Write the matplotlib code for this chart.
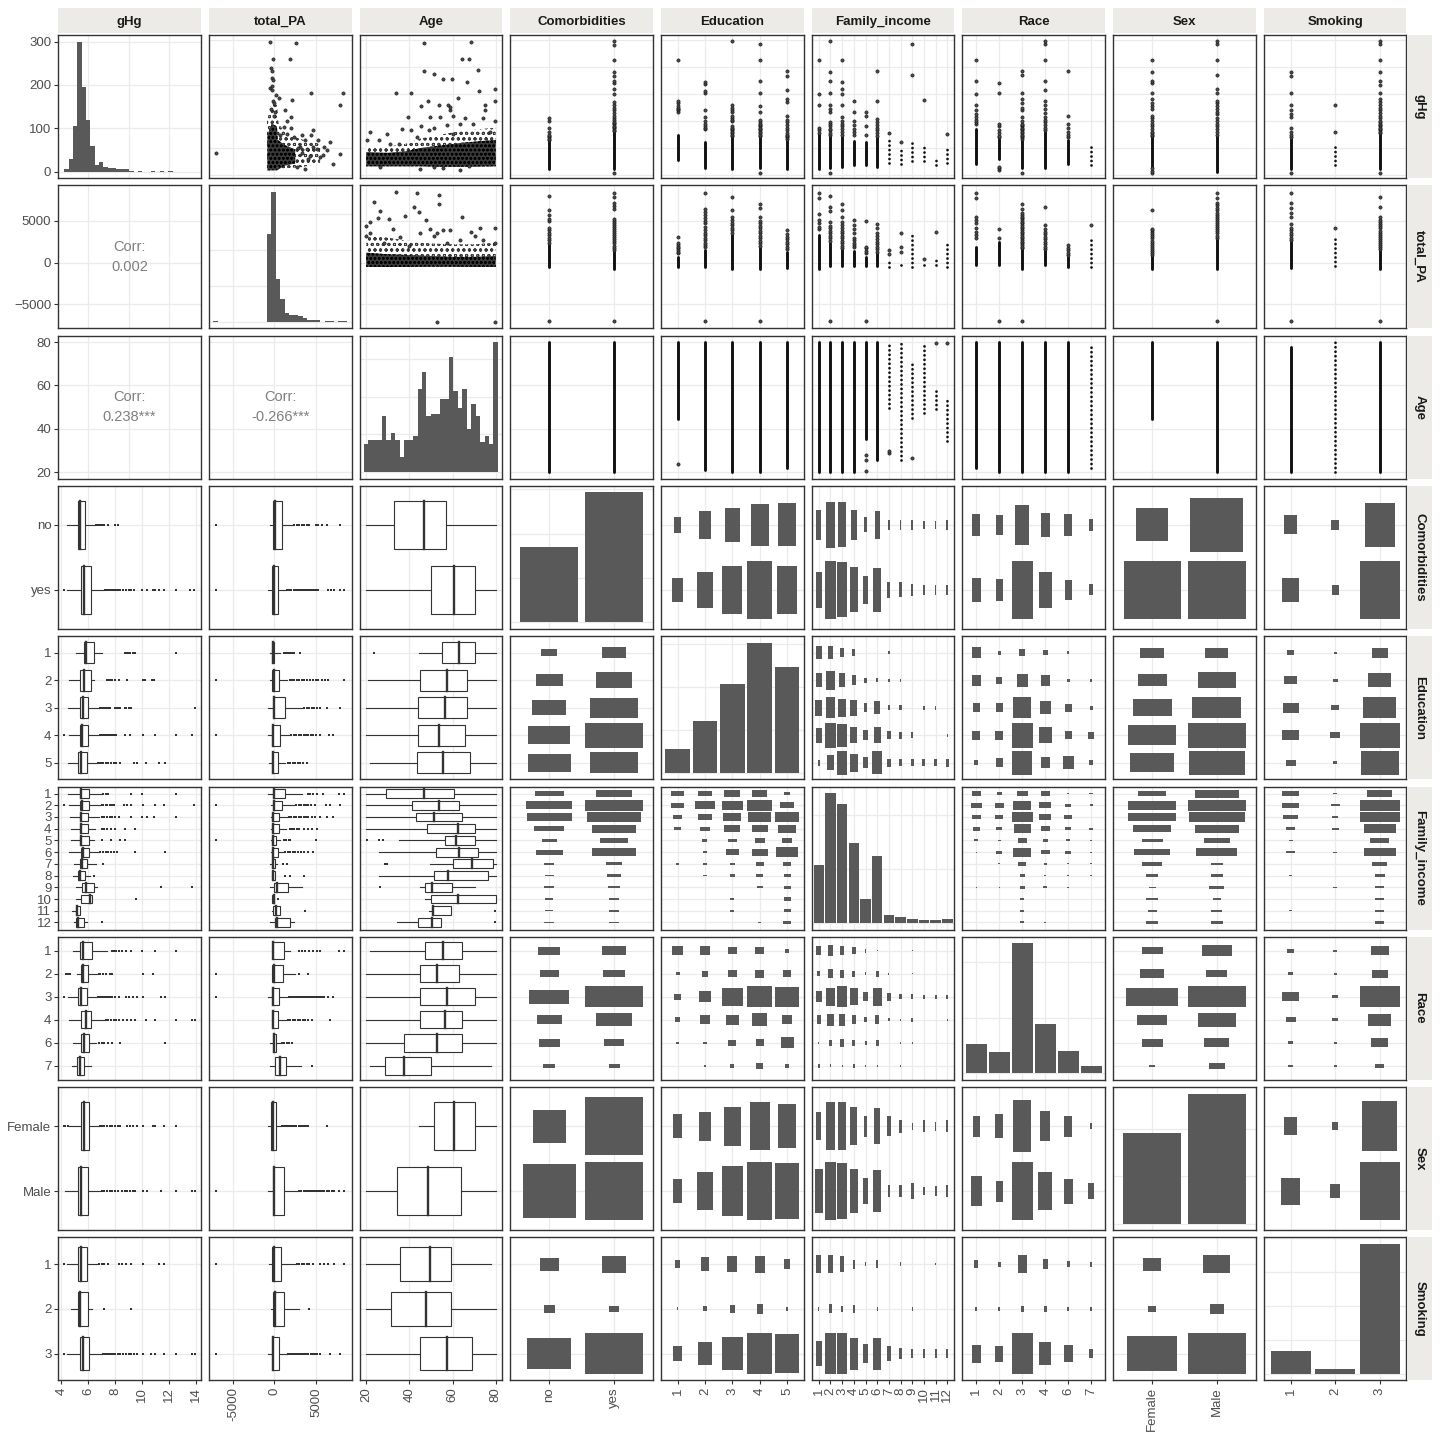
import numpy as np
import matplotlib
matplotlib.use("Agg")
import matplotlib.pyplot as plt
from matplotlib.patches import Rectangle
from matplotlib.ticker import MaxNLocator

plt.rcParams['font.family'] = ['Liberation Sans', 'DejaVu Sans']
plt.rcParams['hatch.linewidth'] = 0.7

# ---------------------------------------------------------------- data
variables = ['gHg', 'total_PA', 'Age', 'Comorbidities', 'Education',
             'Family_income', 'Race', 'Sex', 'Smoking']
continuous = ['gHg', 'total_PA', 'Age']

gHg_range = [4.26, 13.89]
total_PA_range = [-7100, 8500]
Age_range = [20, 80]

gHg_breaks = [4, 6, 8, 10, 12, 14]
gHg_diag_breaks = [6, 9, 12]
total_PA_breaks = [-5000, 0, 5000]
Age_breaks = [20, 40, 60, 80]

Comorbidities_levels = ['no', 'yes']
Education_levels = ['1', '2', '3', '4', '5']
Family_income_levels = ['1', '2', '3', '4', '5', '6', '7', '8', '9', '10', '11', '12']
Race_levels = ['1', '2', '3', '4', '6', '7']
Sex_levels = ['Female', 'Male']
Smoking_levels = ['1', '2', '3']

Comorbidities_counts = [340, 586]
Education_counts = [56, 121, 206, 302, 246]
Family_income_counts = [108, 240, 219, 147, 44, 123, 15, 11, 7, 5, 5, 7]
Race_counts = [104, 76, 468, 177, 79, 25]
Sex_counts = [382, 548]
Smoking_counts = [135, 29, 765]

# histograms of continuous variables
gHg_hist_lo, gHg_hist_hi = 4.23, 12.28
gHg_hist_counts = [5, 28, 105, 300, 195, 119, 60, 16, 23, 10, 8, 7, 5, 5, 5, 2,
                   0, 1, 0, 0, 1, 0, 1, 0, 1]
total_PA_hist_counts = [2, 0, 0, 0, 0, 0, 0, 0, 0, 0, 0, 0, 245, 361, 118, 64, 25,
                        20, 20, 16, 11, 6, 6, 4, 0, 2, 2, 0, 1, 1]
Age_hist_counts = [15, 17, 17, 17, 30, 17, 21, 17, 8, 17, 17, 19, 44, 53, 30, 31,
                   31, 39, 39, 61, 43, 34, 44, 23, 36, 30, 16, 19, 15, 69]

corr_gHg_total_PA = '0.002'
corr_gHg_Age = '0.238***'
corr_total_PA_Age = '-0.266***'

# scatter gHg (y) vs total_PA (x)
sc1_total_PA = [-7027, -476, 2620, -119, 1906, -397, -278, -318, -159, -476, -278,
                516, 2144, 1310, 2025, 4367, 8297, 7861, 4685, 3295, 1112, 1509,
                2303, 3692, 4685, 5082, 6273, 6670, 5479, 7067, 7940, 2700, 3692,
                318, 715, 3097, 4090, -200, 0, -400, 100, -100, 200, -300, 2800,
                3300, 3900, 4300, 5800, 6000, 5200, 4400, 2000, 1500]
sc1_gHg = [5.65, 13.89, 13.81, 12.62, 12.62, 11.9, 11.72, 11.15, 11.03, 10.41,
           10.29, 9.67, 9.54, 8.8, 8.3, 10.09, 10.09, 9.17, 7.31, 6.94, 7.56, 7.06,
           6.81, 6.57, 6.07, 5.95, 5.82, 6.44, 5.33, 4.83, 5.57, 4.58, 4.46, 4.58,
           6.94, 6.07, 5.2, 9.5, 9.3, 8.9, 8.7, 8.4, 9.9, 10.6, 6.0, 5.6, 5.9, 5.4,
           5.5, 6.1, 6.6, 7.0, 7.5, 8.0]
core1_total_PA = [-850, 300, 1300, 2500, 2500, 1300, 400, 300, -300, -850]
core1_gHg = [4.35, 4.35, 4.7, 4.85, 5.9, 6.2, 6.6, 7.6, 7.8, 7.0]
halo1_total_PA = [-900, 1500, 3500, 5500, 5500, 3500, 1500, 500, 300, -400, -900]
halo1_gHg = [4.3, 4.5, 4.6, 4.9, 6.3, 6.6, 7.0, 7.8, 9.2, 9.2, 8.0]

# scatter gHg (y) vs Age (x)
sc2_Age = [46.9, 68.4, 64.3, 67.7, 46.9, 51.5, 55.7, 59.8, 71.7, 66.6, 34.0, 40.9,
           72.4, 79.7, 79.7, 48.6, 45.5, 53.7, 57.8, 62.3, 58.9, 75.2, 75.2, 74.3,
           39.4, 49.7, 54.3, 60.2, 65.9, 36.6, 40.9, 45.4, 51.2, 57.4, 63.5, 69.4,
           22.0, 29.7, 26.0, 31.2, 43.5, 60.4, 79.7, 77.4, 20.5, 35.1, 48.9, 58.9,
           26.6, 45.1, 51.2, 55.8, 63.5, 67.8]
sc2_gHg = [13.81, 13.89, 12.62, 12.62, 11.72, 11.48, 11.13, 11.13, 11.8, 10.91,
           10.06, 10.06, 10.24, 10.39, 9.49, 9.49, 9.1, 9.22, 9.17, 9.72, 8.8, 9.22,
           8.8, 8.25, 8.3, 8.3, 8.3, 8.35, 8.25, 7.41, 7.31, 7.61, 7.46, 7.68, 7.81,
           7.81, 7.16, 7.01, 6.57, 6.32, 6.81, 7.06, 8.0, 7.19, 6.57, 6.32, 7.31,
           9.05, 4.63, 4.46, 4.58, 4.51, 4.38, 4.66]
band2_Age = [20, 30, 38, 45, 55, 65, 80]
band2_gHg_lo = [4.65, 4.65, 4.65, 4.65, 4.62, 4.62, 4.65]
band2_gHg_hi = [5.7, 5.65, 5.75, 6.0, 6.2, 6.4, 6.6]
band2_gHg_halo = [6.1, 6.1, 6.3, 6.7, 7.0, 7.3, 7.5]

# scatter total_PA (y) vs Age (x)
sc3_Age = [34.0, 43.5, 53.7, 53.7, 23.8, 26.3, 25.5, 20.0, 21.7, 20.0, 22.0, 30.4,
           32.4, 38.1, 42.0, 44.3, 47.8, 49.7, 51.2, 55.4, 58.9, 64.3, 68.4, 72.8,
           79.7, 79.7, 74.3, 70.4, 63.5, 57.4, 52.8, 35.8, 39.7, 28.4, 45.1, 52.8, 79.7]
sc3_total_PA = [8500, 8333, 8130, 7032, 7317, 6179, 5325, 4390, 4878, 3171, 3577,
                5203, 3984, 5610, 6626, 6016, 5122, 3984, 3171, 3862, 3862, 5488,
                3699, 4187, 4106, 2358, 2764, 3171, 2764, 2358, 3577, 3049, 2033,
                2358, 3577, -7100, -7100]
band3_Age = [20, 30, 40, 50, 60, 70, 80]
band3_total_PA_lo = [-500, -520, -500, -480, -480, -500, -500]
band3_total_PA_hi = [1200, 1000, 900, 800, 700, 700, 800]
band3_total_PA_halo = [3300, 3000, 2600, 2300, 2200, 2200, 2400]

# box statistics: (whisker low, Q1, median, Q3, whisker high, outliers)
box_gHg_Comorbidities = [
    (4.42, 5.22, 5.42, 5.74, 6.49, [6.6, 6.7, 6.8, 6.9, 7.0, 7.2, 7.5, 8.0, 8.2]),
    (4.42, 5.44, 5.72, 6.19, 7.16, [4.17, 7.25, 7.35, 7.45, 7.55, 7.65, 7.75, 7.85, 7.95, 8.1, 8.25, 8.4, 8.6, 8.8, 9.0, 9.2, 9.4, 10.0, 10.4, 10.8, 11.0, 11.3, 11.6, 12.5, 13.6, 13.9])]
box_gHg_Education = [
    (5.12, 5.67, 5.87, 6.41, 6.99, [8.7, 8.8, 8.9, 9.0, 9.1, 9.3, 9.5, 12.5]),
    (4.55, 5.37, 5.67, 6.19, 6.46, [7.4, 7.5, 7.6, 7.8, 8.0, 8.3, 8.85, 10.07, 10.2, 10.77, 10.9]),
    (4.47, 5.37, 5.59, 5.99, 6.79, [6.9, 7.0, 7.1, 7.2, 7.3, 7.4, 7.5, 7.65, 8.0, 8.1, 8.2, 8.35, 8.7, 8.8, 9.0, 9.15, 13.93]),
    (4.55, 5.37, 5.52, 5.97, 6.81, [4.17, 6.9, 7.0, 7.1, 7.2, 7.3, 7.4, 7.5, 7.6, 7.7, 7.8, 7.9, 8.05, 8.7, 9.1, 10.07, 11.0, 12.5, 13.7]),
    (4.47, 5.22, 5.47, 5.89, 6.66, [6.7, 6.8, 6.9, 7.0, 7.1, 7.3, 7.5, 7.7, 7.9, 8.1, 8.4, 9.4, 9.65, 10.3, 11.3, 11.7])]
box_gHg_Family_income = [
    (4.47, 5.37, 5.47, 6.04, 7.03, [7.1, 7.3, 7.5, 9.15, 10.0, 12.5]),
    (4.55, 5.37, 5.54, 6.04, 6.91, [4.17, 7.0, 7.1, 7.3, 7.4, 7.6, 7.8, 7.9, 8.65, 8.9, 9.2, 10.1, 11.0, 11.6, 13.9]),
    (4.62, 5.37, 5.49, 5.97, 6.79, [7.0, 7.2, 7.4, 7.6, 7.8, 8.0, 8.3, 9.15, 10.0, 10.4, 10.9, 12.5]),
    (4.75, 5.37, 5.49, 5.97, 6.54, [7.0, 7.2, 7.4, 7.7, 8.0, 8.7, 9.45]),
    (4.75, 5.37, 5.49, 6.04, 6.41, [7.0, 7.66, 8.4, 8.7]),
    (4.6, 5.44, 5.59, 6.04, 6.79, [6.9, 7.1, 7.3, 7.5, 7.7, 7.9, 8.15, 9.45, 11.7]),
    (4.92, 5.37, 5.52, 5.89, 6.61, [7.1]),
    (4.85, 5.27, 5.42, 5.74, 6.11, [6.46]),
    (5.07, 5.54, 5.87, 6.41, 6.66, [11.4, 13.7]),
    (5.07, 5.44, 6.16, 6.29, 6.29, [9.57]),
    (4.77, 5.07, 5.17, 5.37, 5.37, []),
    (4.92, 5.07, 5.22, 5.67, 5.92, [7.03])]
box_gHg_Race = [
    (4.85, 5.37, 5.62, 6.26, 7.41, [7.75, 7.9, 8.1, 8.3, 8.5, 8.8, 9.15, 10.0, 11.0, 12.5]),
    (5.2, 5.44, 5.62, 5.97, 6.66, [4.35, 4.5, 4.62, 6.8, 6.9, 7.1, 7.3, 7.6, 7.8, 10.1, 10.8]),
    (4.5, 5.22, 5.47, 5.89, 6.66, [4.17, 6.7, 6.8, 6.9, 7.0, 7.1, 7.2, 7.3, 7.4, 7.5, 7.6, 7.7, 7.8, 8.0, 8.3, 8.8, 9.0, 9.3, 9.65, 10.07, 11.4, 11.7]),
    (4.55, 5.44, 5.87, 6.19, 7.16, [7.3, 7.5, 7.7, 7.9, 8.1, 8.3, 8.6, 8.9, 9.2, 9.5, 10.3, 11.0, 12.5, 13.7, 13.95]),
    (4.85, 5.44, 5.67, 6.04, 6.61, [6.8, 7.0, 7.2, 7.5, 7.8, 8.4, 11.7]),
    (4.77, 5.14, 5.37, 5.67, 6.19, [])]
box_gHg_Sex = [
    (4.6, 5.44, 5.67, 6.04, 6.79, [4.17, 4.3, 4.5, 6.9, 7.0, 7.1, 7.2, 7.4, 7.6, 7.8, 8.0, 8.2, 8.4, 8.9, 9.1, 9.3, 9.65, 10.1, 10.8, 11.0, 11.6, 12.5]),
    (4.25, 5.22, 5.47, 5.97, 6.91, [7.0, 7.2, 7.4, 7.6, 7.8, 8.0, 8.2, 8.5, 8.7, 8.9, 9.1, 9.3, 9.5, 10.1, 10.4, 11.4, 12.5, 13.7, 13.95])]
box_gHg_Smoking = [
    (4.42, 5.22, 5.47, 5.89, 6.66, [4.17, 6.84, 7.0, 7.2, 7.46, 8.28, 8.5, 8.8, 9.15, 10.07, 11.3, 11.6]),
    (4.75, 5.22, 5.42, 5.97, 6.29, [7.2, 9.15]),
    (4.42, 5.37, 5.62, 6.04, 7.03, [4.17, 7.1, 7.2, 7.3, 7.4, 7.5, 7.6, 7.7, 7.8, 7.9, 8.0, 8.2, 8.4, 8.6, 8.8, 9.0, 9.2, 9.4, 9.65, 10.1, 10.7, 11.0, 11.6, 12.5, 13.7, 13.95])]

box_total_PA_Comorbidities = [
    (-556, -198, 119, 873, 2223, [-7027, 2400, 2700, 3000, 3300, 3600, 3900, 4200, 4960, 5280, 5680, 6270, 7940]),
    (-794, -278, -79, 397, 1429, [-7027, 1550, 1800, 2050, 2300, 2550, 2800, 3050, 3300, 3550, 3800, 4050, 4300, 4550, 4800, 5050, 5280, 6470, 6800, 7190, 7860, 8340])]
box_total_PA_Education = [
    (-476, -278, -159, 0, 715, [1100, 1300, 1500, 1700, 1900, 2100, 2300, 3100]),
    (-556, -278, -79, 516, 1509, [-7027, 1830, 2100, 2400, 2700, 2900, 3300, 3600, 3900, 4290, 4700, 5000, 5300, 5700, 6100, 6470, 8340]),
    (-794, -198, -79, 1231, 3295, [3570, 3900, 4200, 4500, 4800, 5100, 5480, 6270, 7860]),
    (-794, -278, -159, 635, 1906, [-7027, 2000, 2300, 2600, 2900, 3200, 3500, 3800, 4100, 4400, 4700, 5000, 5480, 6600, 7070]),
    (-675, -278, -119, 397, 1310, [1590, 1900, 2200, 2500, 2800, 3100, 3400, 3970])]
box_total_PA_Family_income = [
    (-794, -198, -79, 1231, 3295, [4090, 4300, 4700, 5100, 5880, 7780, 8340]),
    (-397, -198, -79, 873, 2300, [-7027, 2620, 2900, 3200, 3500, 3800, 4100, 4400, 4880, 6190, 6670, 7940]),
    (-397, -278, -159, 516, 1588, [1700, 2000, 2300, 2600, 2900, 3200, 3500, 3800, 4100, 4500, 4900, 5480, 6270, 7070]),
    (-397, -278, -159, 516, 1390, [1830, 2100, 2400, 2700, 3000, 3500, 4000, 4490, 5080]),
    (-397, -278, -159, 238, 635, [-7027, 1110, 1400, 1700, 1900, 5000]),
    (-397, -278, -119, 397, 1112, [1310, 1600, 1900, 2200, 2500, 2800, 3200, 3600, 4100, 4680]),
    (-556, -278, -159, 119, 318, [990, 1500]),
    (-278, -278, -159, 119, 119, [1230, 1830, 3570]),
    (-556, -79, 318, 1588, 3295, []),
    (-278, -278, -100, 0, 0, [437]),
    (-278, -159, 159, 635, 635, [3690]),
    (-476, 119, 318, 1906, 2300, [])]
box_total_PA_Race = [
    (-278, -198, -119, 1112, 1826, [3000, 3300, 3700, 4200, 4700, 5100, 5480, 7780, 8340]),
    (-278, -278, -79, 1032, 2500, [-7027, 2900, 4090]),
    (-794, -278, -159, 516, 1588, [-7027, 1700, 1900, 2100, 2300, 2500, 2700, 2900, 3100, 3300, 3500, 3700, 3900, 4100, 4300, 4500, 4700, 4900, 5100, 5300, 5480, 5680, 6000, 6470, 7070]),
    (-278, -278, -159, 397, 1509, [1600, 1900, 2200, 2500, 2800, 3100, 3400, 3700, 4000, 4490, 6670]),
    (-556, -159, -40, 238, 715, [910, 1200, 1500, 1800, 2100]),
    (-556, 40, 635, 1429, 3176, [4490])]
box_total_PA_Sex = [
    (-794, -357, -159, 159, 834, [910, 1150, 1400, 1650, 1900, 2150, 2400, 2650, 2900, 3150, 3400, 3650, 3900, 4090, 6270]),
    (-794, -198, 0, 1112, 2900, [-7027, 2980, 3250, 3500, 3750, 4000, 4250, 4500, 4750, 5000, 5250, 5500, 5750, 6000, 6300, 6600, 6900, 7190, 7780, 8340])]
box_total_PA_Smoking = [
    (-675, -278, -79, 834, 2620, [-7027, 2700, 3000, 3300, 3600, 3900, 4200, 4680, 5480, 6000, 6500, 7190, 8340]),
    (-357, -198, 119, 1112, 3017, [4210]),
    (-794, -278, -159, 516, 1509, [-7027, 1590, 1850, 2100, 2350, 2600, 2850, 3100, 3350, 3600, 3850, 4100, 4350, 4600, 4850, 5100, 5480, 6670, 7860])]

box_Age_Comorbidities = [(20, 32.8, 46.8, 56.8, 80, []), (20, 49.8, 60.8, 70.6, 80, [])]
box_Age_Education = [
    (44.6, 55.1, 62.8, 70.6, 80, [23.8]), (20.8, 44.8, 57.5, 66.9, 80, []),
    (20, 43.8, 56.5, 66.9, 80, []), (20, 43.8, 53.7, 66.0, 80, []),
    (22, 43.4, 55.5, 68.2, 80, [])]
box_Age_Family_income = [
    (20, 29.4, 46.8, 60.8, 80, []), (20, 41.2, 53.7, 63.2, 80, []),
    (20, 42.9, 51.5, 64.3, 80, []), (20, 48.2, 62.6, 70.6, 80, []),
    (35.1, 56.3, 61.7, 70.6, 80, [20.5, 25.8, 27.8]), (25.8, 52.2, 63.1, 72.0, 80, []),
    (49.7, 60.0, 68.9, 78.9, 80, [28.9, 29.7]), (25.8, 51.2, 57.8, 76.6, 80, []),
    (44.8, 47.1, 50.6, 59.7, 70.5, [26.6]), (47.1, 49.8, 62.6, 80, 80, []),
    (49.2, 50.6, 51.0, 59.2, 59.2, [79.7]), (34.2, 43.8, 50.6, 54.5, 54.5, [79.7])]
box_Age_Race = [
    (22, 47.1, 55.5, 64.6, 80, []), (20, 45.1, 52.8, 62.8, 80, []),
    (20, 44.8, 57.5, 70.6, 80, []), (20, 44.8, 56.5, 64.2, 80, []),
    (20, 37.4, 52.8, 64.6, 80, []), (22, 28.6, 37.7, 50.2, 77.7, [])]
box_Age_Sex = [(44.6, 51.5, 60.8, 70.6, 80, []), (20, 34.2, 48.6, 63.7, 80, [])]
box_Age_Smoking = [(20, 35.8, 49.5, 59.1, 77.7, []), (20, 31.4, 47.7, 59.1, 80, []),
                   (20, 44.8, 57.4, 69.1, 80, [])]

# cross tables (rows = first variable levels, columns = second variable levels)
tab_Comorbidities_Education = [[24, 66, 105, 155, 162], [54, 118, 204, 302, 210]]
tab_Comorbidities_Family_income = [[58, 142, 137, 62, 15, 51, 7, 6, 7, 4, 4, 7],
                                   [89, 231, 204, 137, 52, 131, 18, 15, 10, 6, 6, 6]]
tab_Comorbidities_Race = [[69, 53, 229, 86, 63, 21], [84, 63, 479, 185, 52, 17]]
tab_Comorbidities_Sex = [[142, 376], [432, 450]]
tab_Comorbidities_Smoking = [[77, 25, 416], [125, 21, 735]]
tab_Education_Family_income = [[31, 31, 15, 10, 0, 0, 2, 0, 0, 0, 0, 0],
                               [35, 72, 40, 20, 5, 3, 2, 2, 0, 0, 0, 0],
                               [49, 88, 62, 49, 15, 35, 5, 5, 0, 3, 3, 0],
                               [44, 118, 100, 51, 21, 48, 14, 10, 6, 0, 0, 2],
                               [7, 40, 112, 64, 21, 97, 13, 10, 10, 10, 10, 13]]
tab_Education_Race = [[42, 6, 20, 12, 3, 0], [45, 18, 62, 45, 4, 3], [30, 30, 174, 62, 25, 6],
                      [32, 32, 237, 92, 28, 20], [8, 28, 217, 42, 67, 8]]
tab_Education_Sex = [[42, 42], [66, 110], [118, 189], [174, 265], [151, 242]]
tab_Education_Smoking = [[13, 2, 57], [42, 6, 127], [60, 14, 259], [63, 23, 370], [23, 4, 338]]
tab_Family_income_Race = [[38, 12, 55, 35, 2, 6], [50, 38, 146, 67, 18, 4],
                          [35, 30, 185, 62, 30, 1], [22, 15, 122, 35, 18, 7],
                          [6, 4, 38, 12, 7, 1], [1, 15, 139, 35, 15, 1],
                          [0, 2, 26, 4, 1, 1], [0, 0, 10, 2, 1, 1], [1, 1, 10, 6, 1, 0],
                          [0, 0, 6, 0, 0, 0], [0, 0, 6, 0, 0, 0], [0, 0, 7, 1, 0, 0]]
tab_Family_income_Sex = [[46, 117], [139, 206], [139, 188], [90, 117], [27, 40], [78, 103],
                         [25, 9], [10, 9], [3, 14], [8, 4], [5, 7], [8, 8]]
tab_Family_income_Smoking = [[54, 3, 103], [54, 14, 275], [42, 6, 275], [15, 9, 176],
                             [3, 0, 66], [12, 2, 176], [0, 0, 37], [2, 0, 18], [0, 2, 12],
                             [1, 0, 12], [1, 0, 12], [0, 0, 12]]
tab_Race_Sex = [[53, 104], [67, 53], [321, 408], [104, 179], [53, 74], [5, 32]]
tab_Race_Smoking = [[21, 6, 121], [9, 4, 93], [115, 16, 595], [38, 12, 202], [12, 4, 115], [9, 4, 26]]
tab_Sex_Smoking = [[65, 12, 492], [139, 37, 655]]

# ---------------------------------------------------------------- lookups
levels = {'Comorbidities': Comorbidities_levels, 'Education': Education_levels,
          'Family_income': Family_income_levels, 'Race': Race_levels,
          'Sex': Sex_levels, 'Smoking': Smoking_levels}
counts = {'Comorbidities': Comorbidities_counts, 'Education': Education_counts,
          'Family_income': Family_income_counts, 'Race': Race_counts,
          'Sex': Sex_counts, 'Smoking': Smoking_counts}
ranges = {'gHg': gHg_range, 'total_PA': total_PA_range, 'Age': Age_range}
breaks = {'gHg': gHg_breaks, 'total_PA': total_PA_breaks, 'Age': Age_breaks}
boxes = {
    ('gHg', 'Comorbidities'): box_gHg_Comorbidities, ('gHg', 'Education'): box_gHg_Education,
    ('gHg', 'Family_income'): box_gHg_Family_income, ('gHg', 'Race'): box_gHg_Race,
    ('gHg', 'Sex'): box_gHg_Sex, ('gHg', 'Smoking'): box_gHg_Smoking,
    ('total_PA', 'Comorbidities'): box_total_PA_Comorbidities,
    ('total_PA', 'Education'): box_total_PA_Education,
    ('total_PA', 'Family_income'): box_total_PA_Family_income,
    ('total_PA', 'Race'): box_total_PA_Race, ('total_PA', 'Sex'): box_total_PA_Sex,
    ('total_PA', 'Smoking'): box_total_PA_Smoking,
    ('Age', 'Comorbidities'): box_Age_Comorbidities, ('Age', 'Education'): box_Age_Education,
    ('Age', 'Family_income'): box_Age_Family_income, ('Age', 'Race'): box_Age_Race,
    ('Age', 'Sex'): box_Age_Sex, ('Age', 'Smoking'): box_Age_Smoking}
tables = {
    ('Comorbidities', 'Education'): tab_Comorbidities_Education,
    ('Comorbidities', 'Family_income'): tab_Comorbidities_Family_income,
    ('Comorbidities', 'Race'): tab_Comorbidities_Race,
    ('Comorbidities', 'Sex'): tab_Comorbidities_Sex,
    ('Comorbidities', 'Smoking'): tab_Comorbidities_Smoking,
    ('Education', 'Family_income'): tab_Education_Family_income,
    ('Education', 'Race'): tab_Education_Race, ('Education', 'Sex'): tab_Education_Sex,
    ('Education', 'Smoking'): tab_Education_Smoking,
    ('Family_income', 'Race'): tab_Family_income_Race,
    ('Family_income', 'Sex'): tab_Family_income_Sex,
    ('Family_income', 'Smoking'): tab_Family_income_Smoking,
    ('Race', 'Sex'): tab_Race_Sex, ('Race', 'Smoking'): tab_Race_Smoking,
    ('Sex', 'Smoking'): tab_Sex_Smoking}
corrs = {('gHg', 'total_PA'): corr_gHg_total_PA, ('gHg', 'Age'): corr_gHg_Age,
         ('total_PA', 'Age'): corr_total_PA_Age}


def get_table(rv, cv):
    if (rv, cv) in tables:
        return np.array(tables[(rv, cv)], dtype=float)
    return np.array(tables[(cv, rv)], dtype=float).T


# ---------------------------------------------------------------- styling
INK = '#333333'
BAR = '#595959'
GRID = '#EBEBEB'
STRIP = '#EDEBE8'
TXT = '#4D4D4D'
PT = '#111111'

W = H = 1440.0
PX0, PY0 = 58.3, 35.0
PW, PH = 142.5, 143.0
DX, DY = 150.7, 150.3

fig = plt.figure(figsize=(14.4, 14.4), dpi=100)
fig.patch.set_facecolor('white')


def cont_lim(v):
    r = ranges[v]
    d = r[1] - r[0]
    return (r[0] - 0.05 * d, r[1] + 0.05 * d)


def disc_lim(v):
    return (0.4, len(levels[v]) + 0.6)


def make_ax(r, c):
    left = PX0 + c * DX
    top = PY0 + r * DY
    ax = fig.add_axes([left / W, 1 - (top + PH) / H, PW / W, PH / H])
    for s in ax.spines.values():
        s.set_color(INK)
        s.set_linewidth(1.0)
    ax.set_axisbelow(True)
    ax.tick_params(length=0, labelleft=False, labelbottom=False)
    ax.grid(True, color=GRID, linewidth=0.9)
    return ax


def count_ticks(vmax):
    loc = MaxNLocator(nbins=4, steps=[1, 2, 2.5, 5, 10], integer=True)
    t = loc.tick_values(0, vmax)
    return [x for x in t if -0.05 * vmax <= x <= 1.05 * vmax]


def strip_line(ax, x, lo, hi, sparse):
    if sparse:
        ax.plot([x, x], [lo, hi], color=PT, lw=2.0, ls=(0, (0.01, 1.6)),
                dash_capstyle='round', zorder=3)
    else:
        ax.plot([x, x], [lo, hi], color=PT, lw=2.1, solid_capstyle='round', zorder=3)


def cloud(ax, xs, ylo, yhi=None, dense=True):
    # region of overlapping points: speckled texture
    if dense:
        kw = dict(facecolor='#3a3a3a', edgecolor='#000000', hatch='oooo', linewidth=0, zorder=2)
    else:
        kw = dict(facecolor='white', edgecolor='#3a3a3a', hatch='ooo', linewidth=0, zorder=2)
    if yhi is None:
        ax.fill(xs, ylo, **kw)
    else:
        ax.fill_between(xs, ylo, yhi, **kw)


for r, rv in enumerate(variables):
    for c, cv in enumerate(variables):
        ax = make_ax(r, c)
        rcont = rv in continuous
        ccont = cv in continuous
        # ---------------- axes limits & grid
        if ccont:
            ax.set_xlim(*cont_lim(cv))
            if cv == 'gHg' and r <= 2:
                ax.set_xticks(gHg_diag_breaks)
            else:
                ax.set_xticks(breaks[cv])
        else:
            ax.set_xlim(*disc_lim(cv))
            ax.set_xticks(range(1, len(levels[cv]) + 1))
            ax.set_xticklabels(levels[cv])

        if r == c:
            # -------- diagonal
            if rcont:
                if rv == 'gHg':
                    cnt = gHg_hist_counts
                    edges = np.linspace(gHg_hist_lo, gHg_hist_hi, len(cnt) + 1)
                else:
                    cnt = total_PA_hist_counts if rv == 'total_PA' else Age_hist_counts
                    lo, hi = ranges[rv]
                    w = (hi - lo) / (len(cnt) - 1)
                    edges = np.linspace(lo - w / 2, hi + w / 2, len(cnt) + 1)
                ax.bar(edges[:-1], cnt, width=np.diff(edges), align='edge',
                       color=BAR, linewidth=0)
                m = max(cnt)
            else:
                cnt = counts[rv]
                ax.bar(np.arange(1, len(cnt) + 1), cnt, width=0.9, color=BAR, linewidth=0)
                m = max(cnt)
            ax.set_ylim(-0.05 * m, 1.05 * m)
            ax.set_yticks(count_ticks(m))
        else:
            if rcont:
                ax.set_ylim(*cont_lim(rv))
                ax.set_yticks(breaks[rv])
            else:
                k = len(levels[rv])
                ax.set_ylim(k + 0.6, 0.4)
                ax.set_yticks(range(1, k + 1))
                ax.set_yticklabels(levels[rv])

            if rcont and ccont:
                if r > c:
                    txt = corrs.get((cv, rv)) or corrs.get((rv, cv))
                    ax.text(0.5, 0.5, 'Corr:\n' + txt, transform=ax.transAxes,
                            ha='center', va='center', fontsize=10.5, color='#7F7F7F',
                            linespacing=1.55)
                else:
                    if (rv, cv) == ('gHg', 'total_PA'):
                        cloud(ax, halo1_total_PA, halo1_gHg, dense=False)
                        cloud(ax, core1_total_PA, core1_gHg, dense=True)
                        xs, ys = sc1_total_PA, sc1_gHg
                    elif (rv, cv) == ('gHg', 'Age'):
                        cloud(ax, band2_Age, band2_gHg_lo, band2_gHg_halo, dense=False)
                        cloud(ax, band2_Age, band2_gHg_lo, band2_gHg_hi, dense=True)
                        xs, ys = sc2_Age, sc2_gHg
                    else:
                        cloud(ax, band3_Age, band3_total_PA_lo, band3_total_PA_halo, dense=False)
                        cloud(ax, band3_Age, band3_total_PA_lo, band3_total_PA_hi, dense=True)
                        xs, ys = sc3_Age, sc3_total_PA
                    ax.scatter(xs, ys, s=5.5, facecolor='#4a4a4a', edgecolor=PT,
                               linewidths=0.4, zorder=3)
            elif ccont and not rcont:
                # -------- horizontal boxplots
                stats = boxes[(cv, rv)]
                for i, (lo, q1, md, q3, hi, outs) in enumerate(stats):
                    y = i + 1
                    ax.plot([lo, q1], [y, y], color=INK, lw=0.8, zorder=2)
                    ax.plot([q3, hi], [y, y], color=INK, lw=0.8, zorder=2)
                    ax.add_patch(Rectangle((q1, y - 0.375), q3 - q1, 0.75, facecolor='white',
                                           edgecolor=INK, lw=0.8, zorder=3))
                    ax.plot([md, md], [y - 0.375, y + 0.375], color=INK, lw=1.7, zorder=4)
                    if outs:
                        ax.plot(outs, [y] * len(outs), ls='none', marker='s', ms=1.8,
                                mew=0, color=INK, zorder=4)
            elif rcont and not ccont:
                # -------- strips of points
                stats = boxes[(rv, cv)]
                for i, (lo, q1, md, q3, hi, outs) in enumerate(stats):
                    x = i + 1
                    strip_line(ax, x, lo, hi, counts[cv][i] < 30)
                    if outs:
                        ax.scatter([x] * len(outs), outs, s=5.5, facecolor='#4a4a4a',
                                   edgecolor=PT, linewidths=0.4, zorder=4)
            else:
                # -------- count tiles
                tab = get_table(rv, cv)
                nmax = tab.max()
                for i in range(tab.shape[0]):
                    for j in range(tab.shape[1]):
                        n = tab[i, j]
                        if n <= 0:
                            continue
                        side = 0.9 * np.sqrt(n / nmax)
                        ax.add_patch(Rectangle((j + 1 - side / 2, i + 1 - side / 2), side, side,
                                               facecolor=BAR, edgecolor='none', zorder=3))

        # ---------------- outer axis labels
        if c == 0:
            ax.tick_params(axis='y', length=3, width=0.8, color=INK, labelleft=True,
                           labelsize=9.5, labelcolor=TXT, pad=2)
            if r == 0:
                ax.set_yticks([0, 100, 200, 300])
                ax.set_yticklabels(['0', '100', '200', '300'])
        if r == len(variables) - 1:
            ax.tick_params(axis='x', length=3, width=0.8, color=INK, labelbottom=True,
                           labelsize=9.5, labelcolor=TXT, pad=2, labelrotation=90)
            if cv == 'gHg':
                ax.set_xticklabels([str(b) for b in gHg_breaks])
            elif cv == 'total_PA':
                ax.set_xticklabels([str(b) for b in total_PA_breaks])
            elif cv == 'Age':
                ax.set_xticklabels([str(b) for b in Age_breaks])

# ---------------------------------------------------------------- strips
for c, name in enumerate(variables):
    left = PX0 + c * DX
    sax = fig.add_axes([left / W, 1 - 33.0 / H, PW / W, 25.0 / H])
    sax.set_facecolor(STRIP)
    sax.set_xticks([]); sax.set_yticks([])
    for s in sax.spines.values():
        s.set_visible(False)
    sax.text(0.5, 0.45, name, ha='center', va='center', fontsize=9.5,
             fontweight='bold', color='#1A1A1A', transform=sax.transAxes)

for r, name in enumerate(variables):
    top = PY0 + r * DY
    sax = fig.add_axes([1407.0 / W, 1 - (top + PH) / H, 25.0 / W, PH / H])
    sax.set_facecolor(STRIP)
    sax.set_xticks([]); sax.set_yticks([])
    for s in sax.spines.values():
        s.set_visible(False)
    sax.text(0.5, 0.5, name, ha='center', va='center', fontsize=9.5, rotation=-90,
             fontweight='bold', color='#1A1A1A', transform=sax.transAxes)

fig.savefig('out.png', dpi=100)
